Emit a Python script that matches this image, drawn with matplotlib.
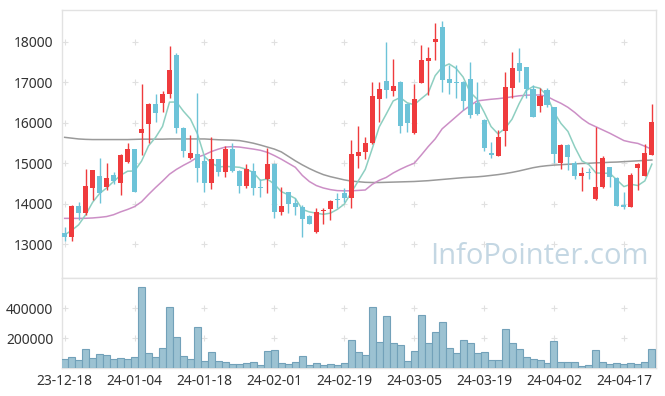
import matplotlib
matplotlib.use("Agg")
import matplotlib.pyplot as plt
import numpy as np

# ---------------- data ----------------
dates = ["23-12-18", "24-01-04", "24-01-18", "24-02-01", "24-02-19",
         "24-03-05", "24-03-19", "24-04-02", "24-04-17"]
date_idx = [0, 10, 20, 30, 40, 50, 60, 70, 80]

opens = [13270, 13191, 13947, 13767, 14400, 14687, 14424, 14712, 14523, 15041,
         15345, 15756, 15980, 16455, 16496, 16710, 17671, 15863, 15123, 15230,
         15057, 14506, 15098, 14794, 15345, 14811, 14449, 14811, 14390, 14605,
         14983, 13808, 14285, 14013, 13931, 13701, 13298, 13824, 13874, 14110,
         14277, 14150, 15180, 15287, 15493, 16594, 17030, 16792, 17005, 16463,
         15756, 16989, 17531, 18000, 18360, 17071, 17000, 17005, 17071, 16496,
         16068, 15263, 15189, 15805, 16866, 17466, 17367, 16833, 16414, 16808,
         16380, 15016, 15444, 15016, 14696, 14760, 14112, 14408, 14910, 14638,
         13970, 13931, 14893, 14696, 15215]
highs = [13430, 13970, 14046, 14852, 14840, 15123, 15016, 14794, 15222, 15493,
         15350, 16956, 16480, 16720, 16792, 17893, 17712, 15904, 15698, 16727,
         15205, 15657, 15110, 15427, 15493, 14830, 14983, 15000, 14605, 15370,
         15000, 14408, 14295, 14153, 13972, 13715, 13890, 13890, 14090, 14260,
         14383, 15575, 15921, 15657, 17014, 17014, 18000, 17564, 17030, 16480,
         16948, 17918, 17860, 18460, 18500, 17425, 17425, 17020, 17507, 17005,
         16085, 15534, 15822, 17260, 17737, 17836, 17385, 16932, 16849, 16849,
         16400, 15477, 15470, 15066, 14918, 14880, 15890, 15180, 14920, 14650,
         14301, 14753, 15000, 15477, 16460]
lows = [13070, 13093, 13602, 13726, 14095, 14030, 14342, 14490, 14219, 15016,
        14290, 15195, 15500, 16020, 16260, 16603, 15756, 15164, 15110, 14548,
        14301, 14359, 14687, 14671, 14794, 14260, 14383, 14219, 14178, 14277,
        13644, 13726, 13767, 13726, 13191, 13490, 13290, 13504, 13603, 13890,
        14054, 13890, 14877, 15098, 15480, 16027, 16603, 16660, 15740, 15781,
        15715, 16980, 16685, 17550, 16767, 16700, 16600, 16315, 16109, 16200,
        15312, 15123, 15180, 15427, 16620, 17014, 16620, 16140, 16274, 16381,
        15000, 14852, 14835, 14605, 14326, 14605, 14100, 14400, 14424, 13950,
        13866, 13920, 14342, 14690, 15205]
closes = [13190, 13947, 13767, 14441, 14835, 14276, 14630, 14564, 15205, 15345,
          14301, 15846, 16455, 16233, 16710, 17301, 15863, 15312, 15263, 14877,
          14506, 15098, 14794, 15345, 14819, 14449, 14860, 14383, 14380, 14983,
          13808, 13947, 13989, 13931, 13627, 13504, 13791, 13849, 14071, 14090,
          14153, 15225, 15279, 15493, 16660, 16825, 16808, 16907, 15920, 16003,
          16586, 17548, 17605, 18066, 17055, 16989, 16990, 16545, 16192, 16208,
          15386, 15197, 15641, 16874, 17342, 17277, 16825, 16150, 16660, 16438,
          15220, 15444, 15164, 14696, 14770, 14750, 14424, 15139, 14671, 13956,
          13930, 14712, 14983, 15246, 16019]
prior_closes = [13410, 13070, 13210, 13290]   # closes before the first day (for MA5)

ma20 = [13640, 13640, 13640, 13642, 13650, 13665, 13685, 13730, 13800, 13860,
        13930, 14050, 14230, 14400, 14560, 14730, 14850, 14950, 15040, 15150,
        15210, 15290, 15350, 15400, 15410, 15400, 15375, 15350, 15320, 15270,
        15190, 15100, 15000, 14900, 14700, 14550, 14450, 14390, 14350, 14325,
        14320, 14320, 14330, 14340, 14480, 14580, 14650, 14760, 14850, 14930,
        15000, 15200, 15410, 15600, 15850, 16000, 16150, 16300, 16420, 16540,
        16560, 16580, 16595, 16615, 16640, 16665, 16680, 16685, 16685, 16650,
        16560, 16480, 16380, 16250, 16100, 15980, 15900, 15820, 15740, 15650,
        15560, 15520, 15490, 15420, 15345]
ma60 = [15640, 15620, 15600, 15590, 15585, 15585, 15585, 15585, 15585, 15585,
        15590, 15595, 15595, 15595, 15595, 15600, 15600, 15600, 15600, 15600,
        15600, 15590, 15580, 15575, 15570, 15560, 15530, 15495, 15450, 15400,
        15350, 15280, 15170, 15060, 14960, 14870, 14790, 14720, 14670, 14630,
        14590, 14560, 14545, 14530, 14525, 14525, 14530, 14535, 14540, 14545,
        14550, 14560, 14570, 14585, 14600, 14615, 14630, 14645, 14655, 14665,
        14680, 14700, 14720, 14745, 14775, 14810, 14850, 14890, 14920, 14940,
        14955, 14965, 14975, 14985, 14995, 15000, 15010, 15015, 15025, 15030,
        15040, 15050, 15060, 15070, 15080]

volumes = [60000, 75500, 53300, 126700, 66700, 93300, 86700, 60000, 66700, 60000,
           75500, 542000, 100000, 75500, 133000, 409000, 206700, 80000, 60000, 273300,
           48900, 108900, 48900, 42200, 26700, 26700, 35600, 42200, 22200, 115500,
           120000, 35600, 26700, 42200, 80000, 20000, 35600, 20000, 26700, 17800,
           31100, 186700, 108900, 86700, 408900, 175500, 348900, 168900, 155500, 48900,
           115500, 355500, 168900, 242200, 308900, 133300, 100000, 186700, 168900, 100000,
           108900, 53300, 53300, 260000, 168900, 126700, 73300, 62200, 53300, 33300,
           180000, 42200, 42200, 42200, 13300, 20000, 120000, 42200, 26700, 33300,
           26700, 33300, 26700, 42200, 126700]

price_ticks = [13000, 14000, 15000, 16000, 17000, 18000]
vol_ticks = [200000, 400000]

# ---------------- styling ----------------
UP = "#ef3b3d"
DOWN = "#6dc3d8"
MA5_C = "#8ecfc1"
MA20_C = "#cc8fc6"
MA60_C = "#9a9a9a"
VOL_FACE = "#9cc2d2"
VOL_EDGE = "#72a1b9"
SPINE = "#e2e2e2"
GRIDC = "#e0e0e0"
TXT = "#333333"

plt.rcParams['font.family'] = ['Noto Sans', 'DejaVu Sans']

W, H = 665, 396
fig = plt.figure(figsize=(W / 100, H / 100), dpi=100)
fig.patch.set_facecolor("white")

L, R = 61.5, 655.7
ax = fig.add_axes([L / W, 1 - 278 / H, (R - L) / W, (278 - 10) / H])
axv = fig.add_axes([L / W, 1 - 368 / H, (R - L) / W, (368 - 278) / H], sharex=ax)

n = len(closes)
x = np.arange(n)
o = np.array(opens, float)
c = np.array(closes, float)
hi = np.array(highs, float)
lo = np.array(lows, float)
up = c >= o
cols = np.where(up, UP, DOWN)

# MA5 from closes
allc = np.concatenate([prior_closes, c])
ma5 = np.convolve(allc, np.ones(5) / 5, mode="valid")

# moving averages (drawn under candles)
ax.plot(x, ma60, color=MA60_C, lw=1.1, zorder=2)
ax.plot(x, ma20, color=MA20_C, lw=1.1, zorder=2)
ax.plot(x, ma5, color=MA5_C, lw=1.1, zorder=2)

# candles
ax.vlines(x, lo, hi, colors=cols, lw=1.0, zorder=3)
body_bottom = np.minimum(o, c)
body_h = np.maximum(np.abs(c - o), 25)
ax.bar(x, body_h, bottom=body_bottom, width=0.72, color=cols, lw=0, zorder=4)

# volume
axv.bar(x, volumes, width=1.0, color=VOL_FACE, edgecolor=VOL_EDGE, lw=0.8, zorder=3)

# axes limits
ax.set_xlim(-0.45, n - 1 + 0.55)
ax.set_ylim(12168, 18783)
axv.set_ylim(0, 600000)

# ticks
ax.set_yticks(price_ticks)
ax.set_yticklabels([str(v) for v in price_ticks])
axv.set_yticks(vol_ticks)
axv.set_yticklabels([str(v) for v in vol_ticks])
axv.set_xticks(date_idx)
axv.set_xticklabels(dates)
for a in (ax, axv):
    a.tick_params(axis="both", length=0, labelsize=10, colors=TXT, pad=6)
    for s in a.spines.values():
        s.set_color(SPINE)
        s.set_linewidth(1.0)
    a.set_facecolor("white")
ax.tick_params(axis="x", labelbottom=False)
axv.tick_params(axis="x", pad=4)

# cross-mark grid at tick intersections
gx, gy = np.meshgrid(date_idx, price_ticks)
ax.scatter(gx.ravel(), gy.ravel(), marker="+", s=18, color=GRIDC, lw=0.8, zorder=1)
gx, gy = np.meshgrid(date_idx, vol_ticks)
axv.scatter(gx.ravel(), gy.ravel(), marker="+", s=18, color=GRIDC, lw=0.8, zorder=1)

# watermark
fig.text(539 / W, 1 - 257 / H, "InfoPointer.com", color="#c4d7e3",
         fontsize=21, ha="center", va="center", family="Open Sans", zorder=0)

fig.savefig("out.png", dpi=100, facecolor="white")
